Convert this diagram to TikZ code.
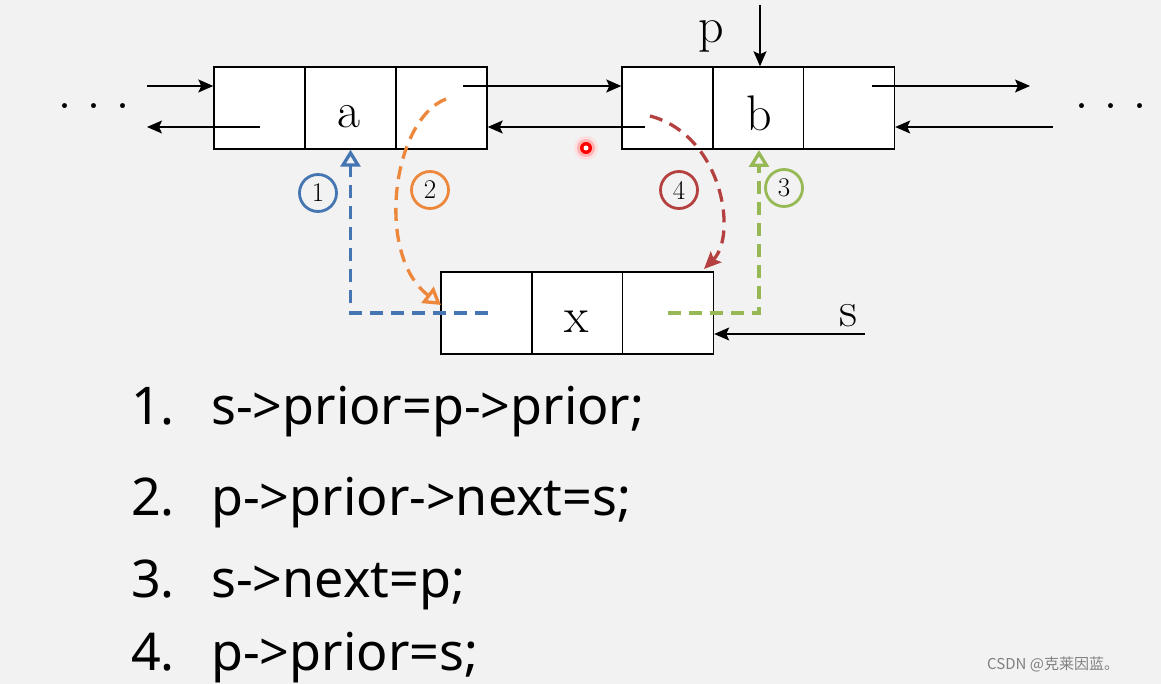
\documentclass[tikz,border=0pt]{standalone}
\usepackage{fontspec}
\newfontfamily\codefont{Noto Sans}
\newfontfamily\cjk{Noto Sans CJK SC}
\usetikzlibrary{arrows.meta}
\definecolor{bg}{HTML}{F2F2F2}
\definecolor{cblue}{RGB}{70,118,178}
\definecolor{corange}{RGB}{237,135,60}
\definecolor{cred}{RGB}{180,65,63}
\definecolor{cgreen}{RGB}{150,185,85}
\tikzset{
  cell/.style={draw, fill=white, line width=1.4pt, minimum width=91pt, minimum height=82pt, inner sep=0pt},
  lbl/.style={font=\fontsize{50}{56}\selectfont, inner sep=0pt},
  ptr/.style={line width=1.4pt, -{Stealth[length=15pt,width=13pt,inset=3pt]}},
  dsh/.style={line width=3.3pt, dash pattern=on 13pt off 8pt},
  opentip/.style={-{Triangle[open,length=17pt,width=20pt]}},
  num/.style={circle, draw, line width=2.8pt, minimum size=37pt, inner sep=0pt, text=black, font=\fontsize{27}{29}\selectfont},
  code/.style={anchor=base west, inner sep=0pt, font=\codefont\fontsize{52}{60}\selectfont},
  dots/.style={font=\fontsize{60}{60}\selectfont, inner sep=0pt}
}
\begin{document}
\begin{tikzpicture}[x=1pt,y=-1pt]
\fill[bg] (0,0) rectangle (1161,684);
\useasboundingbox (0,0) rectangle (1161,684);

% node a
\node[cell] (a1) at (259.5,108) {};
\node[cell] (a2) at (350.5,108) {};
\node[cell] (a3) at (441.5,108) {};
% node b
\node[cell] (b1) at (667.5,108) {};
\node[cell] (b2) at (758.5,108) {};
\node[cell] (b3) at (849,108) {};
% node x
\node[cell] (x1) at (486.5,313) {};
\node[cell] (x2) at (577.5,313) {};
\node[cell] (x3) at (668,313) {};

\node[lbl] (la) at (349,117) {a};
\node[lbl] (lb) at (759,113) {b};
\node[lbl] (lx) at (577,322) {x};
\node[lbl] (lp) at (711,36) {p};
\node[lbl] (ls) at (848,316) {s};

\node[dots] (dl) at (94,106) {.\hspace{14pt}.\hspace{14pt}.};
\node[dots] (dr) at (1111,106) {.\hspace{14pt}.\hspace{14pt}.};

% outer links
\coordinate (lin) at (147,86);
\coordinate (aout) at (260,127);
\coordinate (lout) at (147,127);
\draw[ptr] (lin) -- (a1.west |- lin);
\draw[ptr] (aout) -- (lout);
\coordinate (anext) at (463,86);
\coordinate (bprior) at (645,127);
\draw[ptr] (anext) -- (b1.west |- anext);
\draw[ptr] (bprior) -- (a3.east |- bprior);
\coordinate (bnext) at (872,86);
\coordinate (rnext) at (1030,86);
\coordinate (rin) at (1053,127);
\draw[ptr] (bnext) -- (rnext);
\draw[ptr] (rin) -- (b3.east |- rin);
\coordinate (ptop) at (760,5);
\draw[ptr] (ptop) -- (b2.north -| ptop);
\coordinate (sstart) at (865,334);
\draw[ptr] (sstart) -- (x3.east |- sstart);

% dashed steps
\coordinate (bl0) at (488,313);
\draw[dsh, cblue, opentip] (bl0) -| (a2.south);
\coordinate (gr0) at (668,313);
\coordinate (gtop) at (759,150);
\draw[dsh, cgreen, opentip] (gr0) -| (gtop);
\coordinate (or0) at (446,99);
\coordinate (or1) at (441,305);
\draw[dsh, corange, opentip] (or0) .. controls (392,120) and (375,255) .. (or1);
\coordinate (rd0) at (650,116);
\coordinate (rd1) at (704,269);
\draw[dsh, cred, -{Stealth[length=17pt,width=15pt,inset=3pt]}] (rd0) .. controls (722,135) and (738,235) .. (rd1);

\node[num, draw=cblue] (n1) at (318,193) {1};
\node[num, draw=corange] (n2) at (430,190) {2};
\node[num, draw=cred] (n4) at (679,190) {4};
\node[num, draw=cgreen] (n3) at (784,188) {3};

% cursor dot
\fill[red!12] (586,148) circle (12pt);
\fill[red!30] (586,148) circle (9pt);
\fill[red] (586,148) circle (6pt);
\fill[white] (586,148) circle (2.5pt);

% code lines
\node[code] (c1n) at (131,424) {1.};
\node[code] (c1) at (211,424) {s->prior=p->prior;};
\node[code] (c2n) at (131,515) {2.};
\node[code] (c2) at (211,515) {p->prior->next=s;};
\node[code] (c3n) at (131,597) {3.};
\node[code] (c3) at (211,597) {s->next=p;};
\node[code] (c4n) at (131,670) {4.};
\node[code] (c4) at (211,670) {p->prior=s;};

\node[anchor=west, inner sep=0pt, text=gray, font=\cjk\fontsize{15}{18}\selectfont] (wm) at (987,664) {CSDN @克莱因蓝。};
\end{tikzpicture}
\end{document}
